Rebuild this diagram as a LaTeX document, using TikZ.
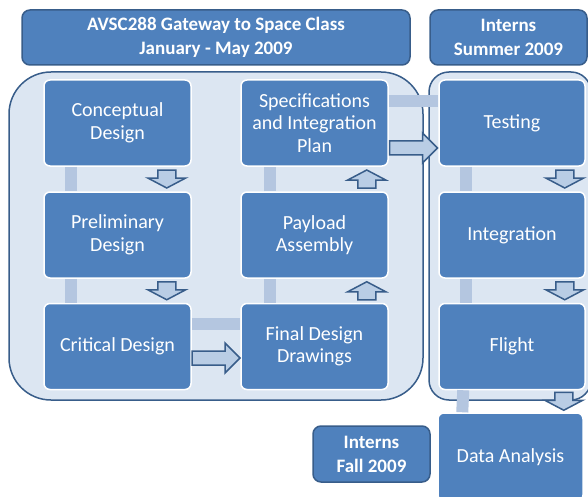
\documentclass[tikz,border=0pt]{standalone}
\usepackage{fontspec}
\setmainfont{Carlito}
\usetikzlibrary{calc, positioning}
\definecolor{boxblue}{RGB}{79,129,189}
\definecolor{darkblue}{RGB}{56,93,138}
\definecolor{paleblue}{RGB}{220,230,242}
\definecolor{barblue}{RGB}{180,198,224}
\definecolor{arrowblue}{RGB}{185,205,229}

\begin{document}
\begin{tikzpicture}[x=1pt, y=-1pt,
    box/.style={draw=white, line width=1.5pt, fill=boxblue, rounded corners=6pt, text=white, align=center,
        minimum width=147pt, minimum height=86pt, inner sep=0pt, font=\fontsize{20}{22.5}\selectfont},
    head/.style={draw=darkblue, line width=1.5pt, fill=boxblue, rounded corners=8pt, text=white, align=center,
        inner sep=0pt, font=\fontsize{19}{24}\selectfont\bfseries},
    group/.style={draw=darkblue, line width=1.5pt, fill=paleblue},
    bar/.style={barblue, line width=12pt},
    arrowshape/.style={draw=darkblue, line width=1.5pt, fill=arrowblue, line join=miter},
    smallarrow/.pic={\draw[arrowshape] (-9,-9) -- (-1,-9) -- (-1,-19) -- (9,0) -- (-1,19) -- (-1,9) -- (-9,9) -- cycle;},
    bigarrow/.pic={\draw[arrowshape] (-24,-7) -- (9,-7) -- (9,-15) -- (24,0) -- (9,15) -- (9,7) -- (-24,7) -- cycle;}
    ]
    \useasboundingbox (0,0) rectangle (588,497);
    \clip (0,0) rectangle (588,497);

    % 标题
    \node[head, minimum width=388pt, minimum height=55pt] (class) at (216,37.5) {AVSC288 Gateway to Space Class\\January - May 2009};
    \node[head, minimum width=157pt, minimum height=55pt] (summer) at (508.5,37.5) {Interns\\Summer 2009};
    \node[head, minimum width=117pt, minimum height=56pt] (fall) at (371.5,454) {Interns\\Fall 2009};

    % 背景框
    \draw[group, rounded corners=42pt] (9,72) rectangle (423,400);
    \draw[group, rounded corners=20pt] (429,72) rectangle (591,400);

    % 方框
    \node[box] (concept) at (117.5,123) {Conceptual\\Design};
    \node[box] (prelim) at (117.5,235) {Preliminary\\Design};
    \node[box] (critical) at (117.5,346.5) {Critical Design};
    \node[box] (spec) at (314.5,123) {Specifications\\and Integration\\Plan};
    \node[box] (payload) at (314.5,235) {Payload\\Assembly};
    \node[box] (final) at (314.5,346.5) {Final Design\\Drawings};
    \node[box, minimum width=146pt] (testing) at (512,123) {Testing};
    \node[box, minimum width=146pt] (integ) at (512,235) {Integration};
    \node[box, minimum width=146pt] (flight) at (512,346.5) {Flight};
    \node[box, minimum width=145pt, minimum height=88pt] (data) at (510.5,457) {Data Analysis};

    % 连接条
    \draw[bar] ([xshift=28]concept.south west) -- ([xshift=28]prelim.north west);
    \draw[bar] ([xshift=28]prelim.south west) -- ([xshift=28]critical.north west);
    \draw[bar] ([xshift=30]payload.north west) -- ([xshift=30]spec.south west);
    \draw[bar] ([xshift=30]final.north west) -- ([xshift=30]payload.south west);
    \draw[bar] ([xshift=28]testing.south west) -- ([xshift=28]integ.north west);
    \draw[bar] ([xshift=28]integ.south west) -- ([xshift=28]flight.north west);
    \draw[bar] ([xshift=25]flight.south west) -- ([xshift=25]data.north west);
    \draw[bar] ([yshift=22.5]critical.east) -- ([yshift=22.5]final.west);
    \draw[bar] ([yshift=22]spec.east) -- ([yshift=22]testing.west);

    % 箭头
    \pic[rotate=-90] at ($(concept.south east)!.5!(prelim.north east)+(-25,0)$) {smallarrow};
    \pic[rotate=-90] at ($(prelim.south east)!.5!(critical.north east)+(-25,0)$) {smallarrow};
    \pic[rotate=90] at ($(spec.south east)!.5!(payload.north east)+(-22,0)$) {smallarrow};
    \pic[rotate=90] at ($(payload.south east)!.5!(final.north east)+(-22,0)$) {smallarrow};
    \pic[rotate=-90] at ($(testing.south east)!.5!(integ.north east)+(-21,0)$) {smallarrow};
    \pic[rotate=-90] at ($(integ.south east)!.5!(flight.north east)+(-21,0)$) {smallarrow};
    \pic[rotate=-90] at ($(flight.south east)!.5!(data.north east)+(-21,0)$) {smallarrow};
    \pic at ($(critical.east)!.5!(final.west)+(0,11.5)$) {bigarrow};
    \pic at ($(spec.east)!.5!(testing.west)+(0,25)$) {bigarrow};

\end{tikzpicture}
\end{document}
